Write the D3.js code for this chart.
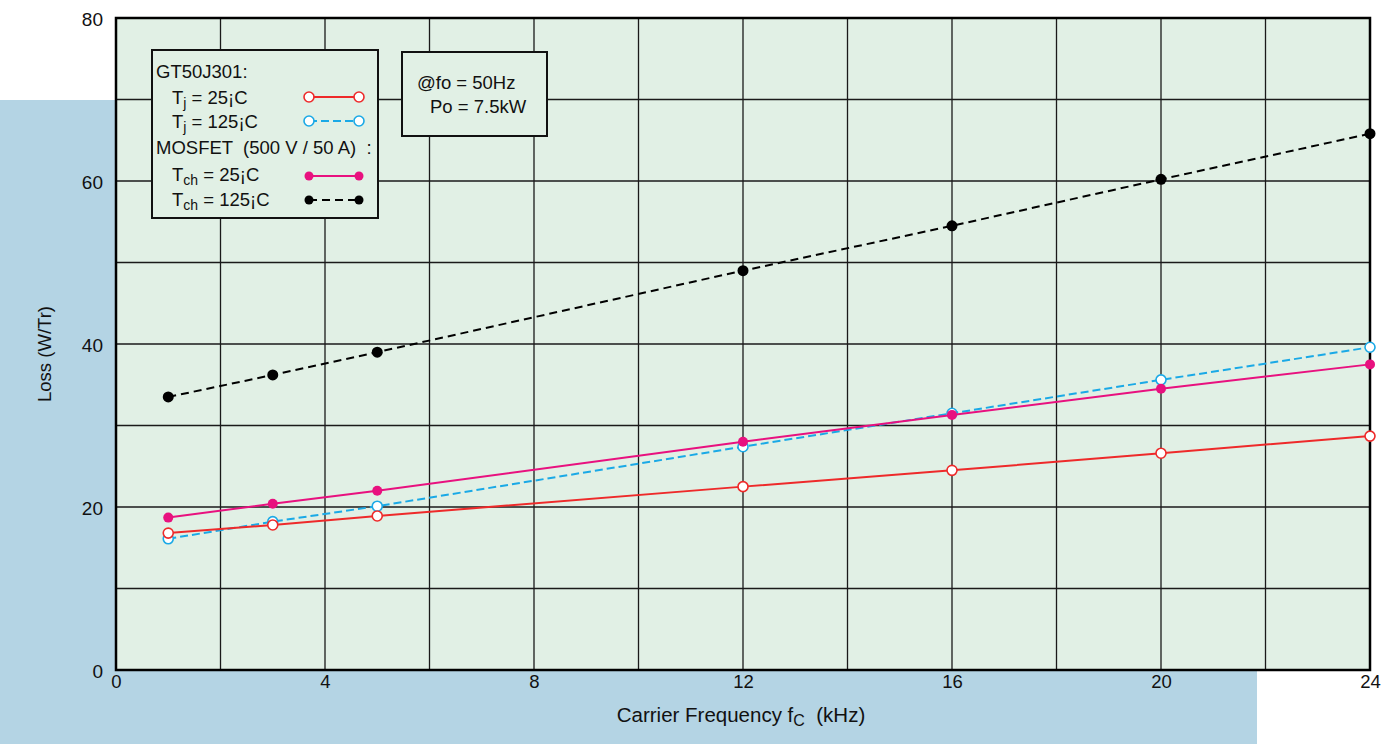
<!DOCTYPE html>
<html>
<head>
<meta charset="utf-8">
<script src="https://cdn.jsdelivr.net/npm/d3@7"></script>
<style>
  body { margin: 0; background: #fff; }
  text { font-family: "Liberation Sans", Arial, sans-serif; fill: #111; white-space: pre; }
</style>
</head>
<body>
<svg id="chart" width="1396" height="744"></svg>
<script>
// carrier frequency (kHz) and loss (W/Tr)
var freqs = [1, 3, 5, 12, 16, 20, 24];
var igbt25 = [16.8, 17.8, 18.9, 22.5, 24.5, 26.6, 28.7];
var igbt125 = [16.1, 18.2, 20.1, 27.4, 31.5, 35.6, 39.6];
var mos25 = [18.7, 20.4, 22.0, 28.0, 31.3, 34.5, 37.5];
var mos125 = [33.5, 36.2, 39.0, 49.0, 54.5, 60.2, 65.8];
var xTicks = [0, 4, 8, 12, 16, 20, 24];
var yTicks = [0, 20, 40, 60, 80];

var series = [
    {name: "mos125", vals: mos125, color: "#000", dash: "8,5", open: false, r: 5.5},
    {name: "igbt125", vals: igbt125, color: "#1aa9e6", dash: "8,4", open: true, r: 5},
    {name: "mos25", vals: mos25, color: "#e8117f", dash: null, open: false, r: 5},
    {name: "igbt25", vals: igbt25, color: "#ee2a2a", dash: null, open: true, r: 5}
];

var svg = d3.select("#chart");
var pL = 116, pR = 1370, pT = 18, pB = 670;
var fs = 18.5;

var x = d3.scaleLinear().domain([0, 24]).range([pL, pR]);
var y = d3.scaleLinear().domain([0, 80]).range([pB, pT]);

// blue backdrop
svg.append("rect").attr("x", 0).attr("y", 100).attr("width", 1257).attr("height", 644)
    .attr("fill", "#b4d4e4");

// plot area
svg.append("rect").attr("x", pL).attr("y", pT).attr("width", pR - pL).attr("height", pB - pT)
    .attr("fill", "#e1f0e5");

// grid
var grid = svg.append("g").attr("stroke", "#1a1a1a").attr("stroke-width", 1.3);
d3.range(2, 24, 2).forEach(function(v){
    grid.append("line").attr("x1", x(v)).attr("x2", x(v)).attr("y1", pT).attr("y2", pB);
});
d3.range(10, 80, 10).forEach(function(v){
    grid.append("line").attr("x1", pL).attr("x2", pR).attr("y1", y(v)).attr("y2", y(v));
});

svg.append("rect").attr("x", pL).attr("y", pT).attr("width", pR - pL).attr("height", pB - pT)
    .attr("fill", "none").attr("stroke", "#000").attr("stroke-width", 2.5);

// axes (labels only)
var xAxis = svg.append("g").attr("transform", "translate(0," + pB + ")")
    .call(d3.axisBottom(x).tickValues(xTicks).tickSize(0).tickPadding(5).tickFormat(d3.format("d")));
xAxis.select(".domain").remove();
xAxis.selectAll("text").attr("font-size", fs).attr("font-family", "Liberation Sans, Arial, sans-serif").attr("fill", "#111");

var yAxis = svg.append("g").attr("transform", "translate(" + (pL - 13) + ",0)")
    .call(d3.axisLeft(y).tickValues(yTicks).tickSize(0).tickPadding(0).tickFormat(d3.format("d")));
yAxis.select(".domain").remove();
yAxis.selectAll("text").attr("font-size", 19).attr("font-family", "Liberation Sans, Arial, sans-serif").attr("fill", "#111")
    .attr("dy", "0.42em");

// axis titles
svg.append("text").attr("transform", "translate(51," + ((pT + pB) / 2 + 10) + ") rotate(-90)")
    .attr("text-anchor", "middle").attr("font-size", fs).text("Loss (W/Tr)");
var xt = svg.append("text").attr("x", 741).attr("y", 722).attr("text-anchor", "middle").attr("font-size", 20.5);
xt.append("tspan").text("Carrier Frequency f");
xt.append("tspan").attr("font-size", 16).attr("dy", 4).text("C");
xt.append("tspan").attr("dy", -4).text("  (kHz)");

// series
var line = d3.line().x(function(d){ return x(d[0]); }).y(function(d){ return y(d[1]); });
series.forEach(function(s){
    var pts = d3.zip(freqs, s.vals);
    svg.append("path").datum(pts).attr("d", line).attr("fill", "none")
        .attr("stroke", s.color).attr("stroke-width", 2)
        .attr("stroke-dasharray", s.dash);
    svg.append("g").selectAll("circle").data(pts).enter().append("circle")
        .attr("cx", function(d){ return x(d[0]); })
        .attr("cy", function(d){ return y(d[1]); })
        .attr("r", s.r)
        .attr("fill", s.open ? "#fff" : s.color)
        .attr("stroke", s.color).attr("stroke-width", s.open ? 1.6 : 0);
});

// legend box
var lg = svg.append("g");
lg.append("rect").attr("x", 152).attr("y", 50).attr("width", 226).attr("height", 168)
    .attr("fill", "#e1f0e5").attr("stroke", "#111").attr("stroke-width", 2);

function sub(g, px, py, main, s, rest){
    var t = g.append("text").attr("x", px).attr("y", py).attr("font-size", fs);
    t.append("tspan").text(main);
    t.append("tspan").attr("font-size", 14).attr("dy", 4).text(s);
    t.append("tspan").attr("dy", -4).text(rest);
}
lg.append("text").attr("x", 156).attr("y", 78).attr("font-size", fs).text("GT50J301:");
sub(lg, 172, 104, "T", "j", " = 25¡C");
sub(lg, 172, 128, "T", "j", " = 125¡C");
lg.append("text").attr("x", 156).attr("y", 154).attr("font-size", fs)
    .text("MOSFET  (500 V / 50 A)  :");
sub(lg, 172, 181, "T", "ch", " = 25¡C");
sub(lg, 172, 206, "T", "ch", " = 125¡C");

var legendRows = [
    {s: series[3], yy: 97},
    {s: series[1], yy: 121},
    {s: series[2], yy: 176},
    {s: series[0], yy: 200}
];
legendRows.forEach(function(r){
    var s = r.s;
    lg.append("line").attr("x1", 309).attr("x2", 359).attr("y1", r.yy).attr("y2", r.yy)
        .attr("stroke", s.color).attr("stroke-width", 2).attr("stroke-dasharray", s.dash);
    [309, 359].forEach(function(cx){
        lg.append("circle").attr("cx", cx).attr("cy", r.yy).attr("r", s.open ? 5 : 4.5)
            .attr("fill", s.open ? "#fff" : s.color)
            .attr("stroke", s.color).attr("stroke-width", s.open ? 1.6 : 0);
    });
});

// condition box
var cb = svg.append("g");
cb.append("rect").attr("x", 402).attr("y", 52).attr("width", 145).attr("height", 84)
    .attr("fill", "#e1f0e5").attr("stroke", "#111").attr("stroke-width", 2);
cb.append("text").attr("x", 417).attr("y", 89).attr("font-size", fs).text("@fo = 50Hz");
cb.append("text").attr("x", 430).attr("y", 113).attr("font-size", fs).text("Po = 7.5kW");
</script>
</body>
</html>
